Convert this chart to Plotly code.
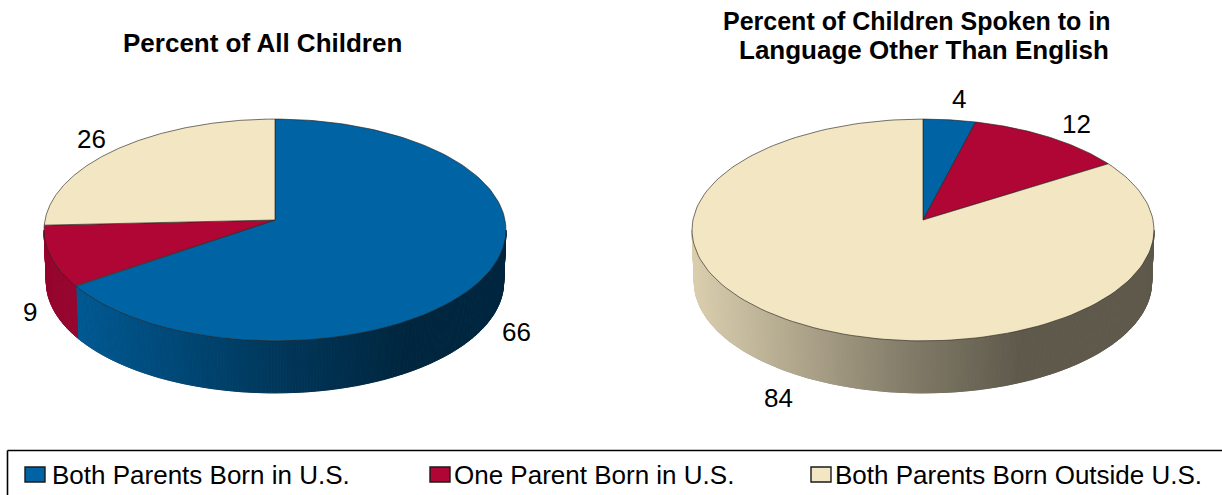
import numpy as np
import plotly.graph_objects as go

# -----------------------------------------------------------------------------
# Data
# -----------------------------------------------------------------------------
categories = ["Both Parents Born in U.S.", "One Parent Born in U.S.", "Both Parents Born Outside U.S."]
all_children = [66, 9, 26]
other_language = [4, 12, 84]
title_left = "Percent of All Children"
title_right = ["Percent of Children Spoken to in", "Language Other Than English"]

# -----------------------------------------------------------------------------
# Style
# -----------------------------------------------------------------------------
FONT = "Liberation Sans"
colors = [(0, 99, 163), (175, 6, 54), (243, 230, 194)]
OUTLINE = "rgba(40,35,30,0.8)"
RIM_OUTLINE = "rgba(90,90,90,0.55)"

# tilted disc geometry, in page pixels
RADIUS_X, RADIUS_Y, TILT, DEPTH = 230, 110, 0.09, 52
CENTER_Y = 220

# shade of the rim from the left end of a slice to the right of the disc
shade_pos = [0.0, 0.23, 0.45, 0.71, 1.0]
shade_val = [0.90, 0.72, 0.55, 0.39, 0.39]
SHADE_FLAT = 0.86  # narrow slices barely change


def rim(cx, theta, low=False):
    # theta runs clockwise from the top of the disc
    u, v = np.sin(theta), np.cos(theta)
    w = 1 + TILT * v
    x = RADIUS_X * u / w
    y = CENTER_Y - RADIUS_Y * v / w
    if low:
        return cx + x * 0.99, y + DEPTH
    return cx + x, y


def poly(x, y, color, line_color=None, width=1):
    return go.Scatter(
        x=x, y=y, mode="lines", fill="toself", fillcolor=color,
        line=dict(color=line_color or color, width=width),
        hoverinfo="skip", showlegend=False,
    )


def draw_pie(fig, cx, values):
    edges = np.cumsum([0] + values) / sum(values) * 2 * np.pi
    vis_start = np.arccos(-TILT)
    vis_end = 2 * np.pi - vis_start

    # outer edge of the rim, under the strips' top
    ang = np.linspace(vis_start, vis_end, 200)
    xt, yt = rim(cx, ang)
    xb, yb = rim(cx, ang, True)
    fig.add_trace(go.Scatter(
        x=[xt[0], *xb, xt[-1]], y=[yt[0], *yb, yt[-1]], mode="lines",
        line=dict(color=RIM_OUTLINE, width=1.2), hoverinfo="skip", showlegend=False,
    ))

    # rim strips first, the top sits over them
    for i, col in enumerate(colors):
        a, b = max(edges[i], vis_start), min(edges[i + 1], vis_end)
        if a >= b:
            continue
        steps = max(int((b - a) / 0.012), 1)
        ang = np.linspace(a, b, steps + 1)
        xs, _ = rim(cx, ang)
        left, right = xs.min(), xs.max()
        for t0, t1 in zip(ang[:-1], ang[1:]):
            x0, y0 = rim(cx, t0)
            x1, y1 = rim(cx, t1)
            x2, y2 = rim(cx, t1, True)
            x3, y3 = rim(cx, t0, True)
            if right - left < 0.4 * 2 * RADIUS_X:
                s = SHADE_FLAT
            else:
                s = np.interp(((x0 + x1) / 2 - left) / (2 * RADIUS_X), shade_pos, shade_val)
            c = "rgb(%d,%d,%d)" % tuple(v * s for v in col)
            fig.add_trace(poly([x0, x1, x2, x3, x0], [y0, y1, y2, y3, y0], c))

    # top slices
    for i, col in enumerate(colors):
        ang = np.linspace(edges[i], edges[i + 1], 160)
        x, y = rim(cx, ang)
        fig.add_trace(poly(
            [cx, *x, cx], [CENTER_Y, *y, CENTER_Y], "rgb(%d,%d,%d)" % col,
            line_color=OUTLINE, width=0.8,
        ))


fig = go.Figure()
draw_pie(fig, 275, all_children)
draw_pie(fig, 923, other_language)

annotations = []


def add_text(x, y, text, size, bold=False, anchor="center"):
    if bold:
        text = "<b>" + text + "</b>"
    annotations.append(dict(
        x=x, y=y, text=text, xref="x", yref="y", showarrow=False, xanchor=anchor, yanchor="middle",
        font=dict(family=FONT, size=size, color="black"),
    ))


add_text(262, 43, title_left, 26, bold=True)
add_text(917, 21, title_right[0], 25, bold=True)
add_text(924, 50, title_right[1], 26, bold=True)

for (x, y), v in zip([(516, 332), (30, 312), (91, 139)], all_children):
    add_text(x, y, str(v), 26)
for (x, y), v in zip([(959, 99), (1076, 124), (778, 398)], other_language):
    add_text(x, y, str(v), 26)

# legend: open box running off the page, keys and names
key_x = [35, 440, 821]
text_x = [50, 452, 833]
shapes = [
    dict(type="line", xref="x", yref="y", x0=7.5, x1=1222, y0=450.5, y1=450.5, line=dict(color="black", width=1.6)),
    dict(type="line", xref="x", yref="y", x0=7.5, x1=7.5, y0=450.5, y1=495, line=dict(color="black", width=1.6)),
]
for kx, col, name, tx in zip(key_x, colors, categories, text_x):
    shapes.append(dict(
        type="rect", xref="x", yref="y", x0=kx - 10, x1=kx + 10, y0=467, y1=482,
        fillcolor="rgb(%d,%d,%d)" % col, line=dict(color="#1a1a1a", width=1.4),
    ))
    add_text(tx, 475, name, 26, anchor="left")

fig.update_layout(
    width=1222,
    height=495,
    margin=dict(l=0, r=0, t=0, b=0),
    plot_bgcolor="white",
    paper_bgcolor="white",
    showlegend=False,
    annotations=annotations,
    shapes=shapes,
)
fig.update_xaxes(range=[0, 1222], visible=False, fixedrange=True)
fig.update_yaxes(range=[495, 0], visible=False, fixedrange=True)

# the page default margin would push the chart off the window
fig.write_html(
    "out.html",
    config={"displayModeBar": False},
    post_script="document.body.style.margin='0';document.body.style.overflow='hidden';",
)
